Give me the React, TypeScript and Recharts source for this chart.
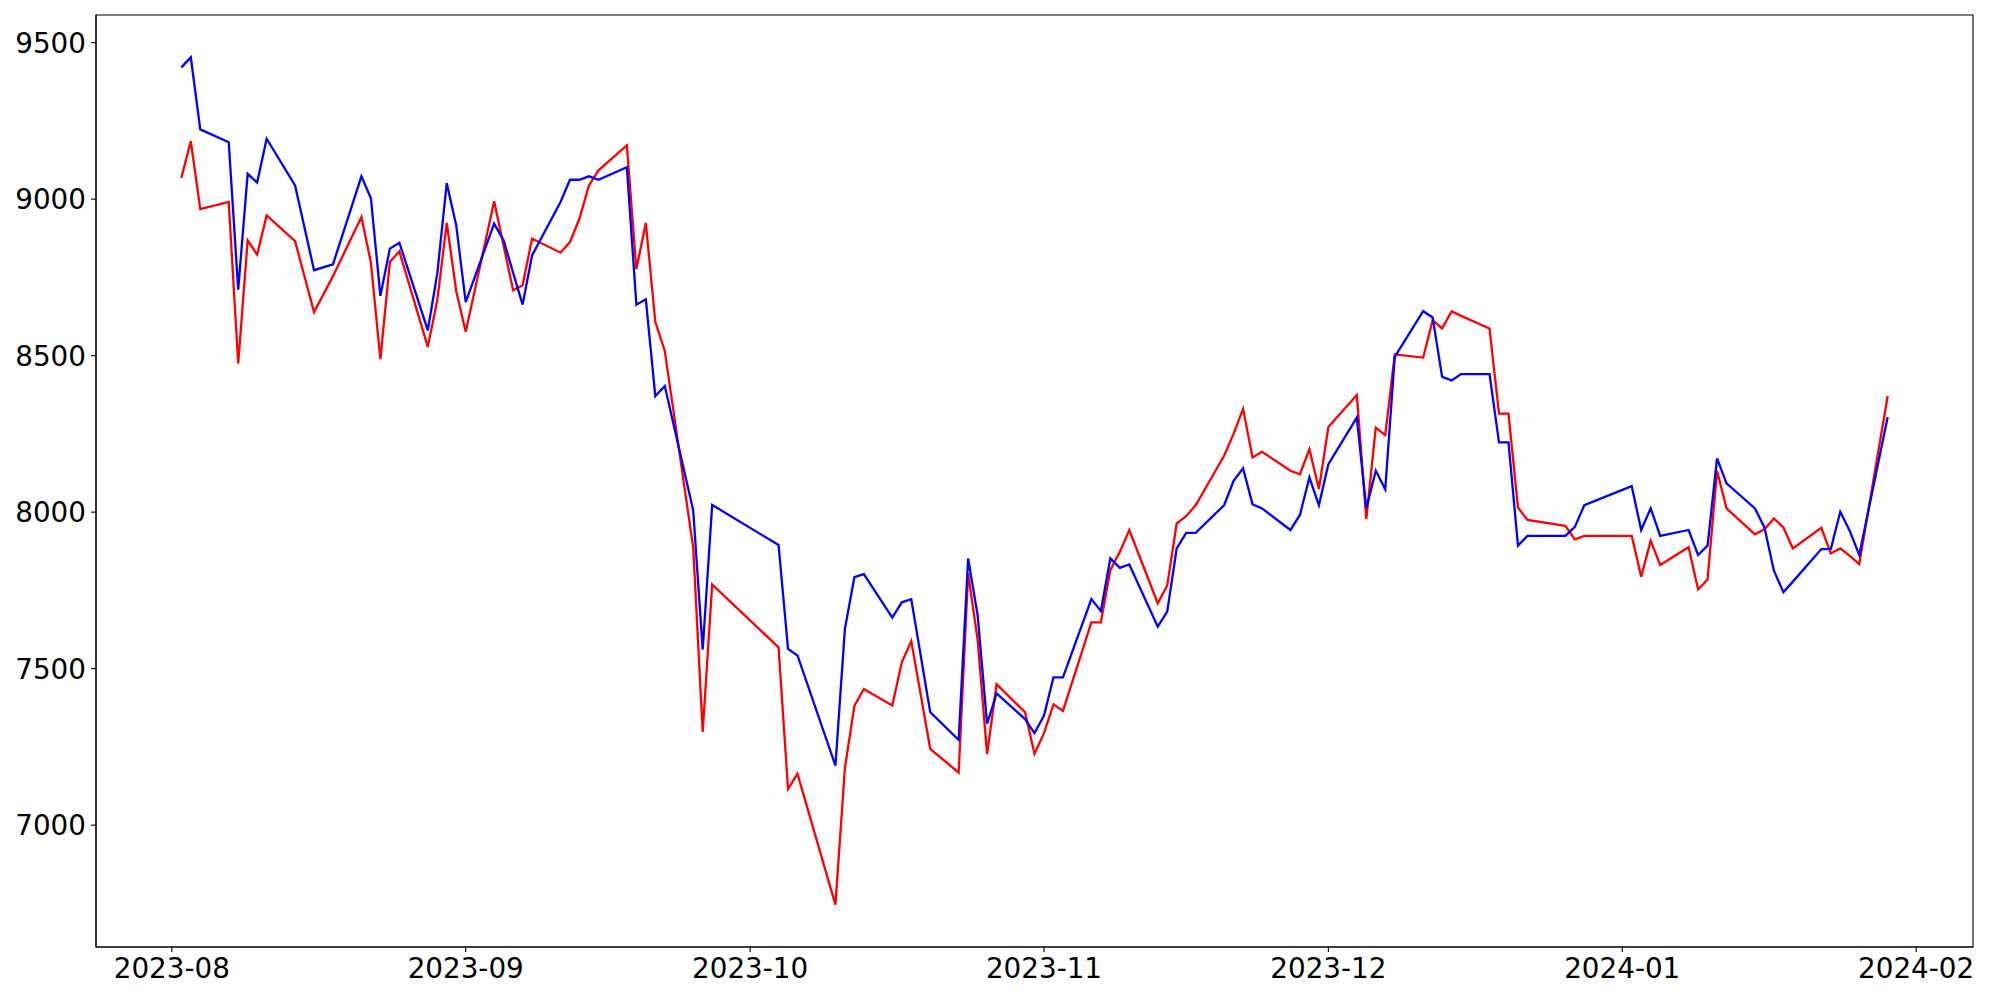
import React from 'react';
import { LineChart, Line, XAxis, YAxis, ReferenceArea } from 'recharts';

const dates: string[] = [
  '2023-08-02','2023-08-03','2023-08-04','2023-08-07','2023-08-08','2023-08-09','2023-08-10','2023-08-11','2023-08-14','2023-08-16','2023-08-18',
  '2023-08-21','2023-08-22','2023-08-23','2023-08-24','2023-08-25','2023-08-28','2023-08-29','2023-08-30','2023-08-31','2023-09-01',
  '2023-09-04','2023-09-05','2023-09-06','2023-09-07','2023-09-08','2023-09-11','2023-09-12','2023-09-13','2023-09-14','2023-09-15',
  '2023-09-18','2023-09-19','2023-09-20','2023-09-21','2023-09-22','2023-09-25','2023-09-26','2023-09-27','2023-10-04','2023-10-05',
  '2023-10-06','2023-10-10','2023-10-11','2023-10-12','2023-10-13','2023-10-16','2023-10-17','2023-10-18','2023-10-20','2023-10-23',
  '2023-10-24','2023-10-25','2023-10-26','2023-10-27','2023-10-30','2023-10-31','2023-11-01','2023-11-02','2023-11-03','2023-11-06',
  '2023-11-07','2023-11-08','2023-11-09','2023-11-10','2023-11-13','2023-11-14','2023-11-15','2023-11-16','2023-11-17','2023-11-20',
  '2023-11-21','2023-11-22','2023-11-23','2023-11-24','2023-11-27','2023-11-28','2023-11-29','2023-11-30','2023-12-01','2023-12-04',
  '2023-12-05','2023-12-06','2023-12-07','2023-12-08','2023-12-11','2023-12-12','2023-12-13','2023-12-14','2023-12-15','2023-12-18',
  '2023-12-19','2023-12-20','2023-12-21','2023-12-22','2023-12-26','2023-12-27','2023-12-28','2024-01-02','2024-01-03','2024-01-04',
  '2024-01-05','2024-01-08','2024-01-09','2024-01-10','2024-01-11','2024-01-12','2024-01-15','2024-01-16','2024-01-17','2024-01-18',
  '2024-01-19','2024-01-22','2024-01-23','2024-01-24','2024-01-25','2024-01-26','2024-01-29',
];

const redSeries: number[] = [
  9068, 9185, 8968, 8991, 8475, 8868, 8823, 8948, 8866, 8639, 8754,
  8943, 8797, 8489, 8799, 8833, 8528, 8677, 8924, 8706, 8576,
  8993, 8851, 8709, 8725, 8874, 8829, 8863, 8938, 9044, 9092,
  9172, 8776, 8924, 8608, 8515, 7886, 7298, 7769, 7568, 7116,
  7164, 6746, 7182, 7381, 7435, 7382, 7520, 7588, 7244, 7168,
  7805, 7592, 7227, 7450, 7361, 7228, 7294, 7386, 7365, 7648,
  7648, 7815, 7873, 7943, 7709, 7765, 7964, 7987, 8022, 8180,
  8250, 8330, 8175, 8193, 8132, 8121, 8201, 8074, 8272, 8374,
  7978, 8270, 8246, 8504, 8494, 8613, 8587, 8642, 8627, 8587,
  8315, 8315, 8015, 7975, 7956, 7913, 7924, 7924, 7794, 7909,
  7831, 7888, 7753, 7785, 8132, 8012, 7929, 7945, 7980, 7951,
  7884, 7950, 7868, 7884, 7860, 7834, 8371,
];

const blueSeries: number[] = [
  9421, 9453, 9223, 9182, 8711, 9081, 9053, 9193, 9044, 8773, 8792,
  9073, 9003, 8691, 8842, 8861, 8581, 8762, 9051, 8916, 8671,
  8922, 8868, 8765, 8663, 8820, 8991, 9062, 9062, 9073, 9062,
  9102, 8663, 8680, 8371, 8403, 8005, 7561, 8023, 7895, 7563,
  7542, 7190, 7627, 7792, 7802, 7663, 7712, 7722, 7361, 7272,
  7852, 7671, 7324, 7421, 7339, 7294, 7350, 7472, 7472, 7722,
  7684, 7852, 7822, 7833, 7634, 7682, 7884, 7934, 7934, 8022,
  8100, 8140, 8025, 8012, 7943, 7991, 8111, 8022, 8153, 8302,
  8012, 8132, 8073, 8496, 8642, 8622, 8432, 8421, 8441, 8441,
  8223, 8223, 7893, 7924, 7924, 7953, 8022, 8083, 7943, 8012,
  7924, 7943, 7863, 7893, 8172, 8092, 8012, 7951, 7813, 7744,
  7778, 7882, 7882, 8001, 7940, 7863, 8304,
];

const xTickLabels: string[] = ['2023-08', '2023-09', '2023-10', '2023-11', '2023-12', '2024-01', '2024-02'];
const yTicks: number[] = [7000, 7500, 8000, 8500, 9000, 9500];

const toUTC = (s: string) => {
  const [y, m, d] = s.split('-').map(Number);
  return Date.UTC(y, m - 1, d || 1);
};

const data = dates.map((d, i) => ({ t: toUTC(d), red: redSeries[i], blue: blueSeries[i] }));
const xTicks = xTickLabels.map(toUTC);

const tMin = data[0].t;
const tMax = data[data.length - 1].t;
const xPad = (tMax - tMin) * 0.05;
const xDomain: [number, number] = [tMin - xPad, tMax + xPad];

const allVals = [...redSeries, ...blueSeries];
const vMin = Math.min(...allVals);
const vMax = Math.max(...allVals);
const yPad = (vMax - vMin) * 0.05;
const yDomain: [number, number] = [vMin - yPad, vMax + yPad];

const fmtMonth = (t: number) => {
  const d = new Date(t);
  return `${d.getUTCFullYear()}-${String(d.getUTCMonth() + 1).padStart(2, '0')}`;
};

const tickStyle = { fill: '#000', fontSize: 27.8, fontFamily: 'DejaVu Sans' };

export default function App() {
  return (
    <div style={{ position: 'absolute', left: 0, top: 0, width: 2000, height: 1000, background: '#fff' }}>
      <LineChart width={2000} height={1000} data={data} margin={{ top: 15, right: 27, left: 0, bottom: 0 }}>
        <XAxis
          dataKey="t"
          type="number"
          domain={xDomain}
          allowDataOverflow
          ticks={xTicks}
          tickFormatter={fmtMonth}
          height={53}
          tick={tickStyle}
          tickSize={5}
          tickMargin={6}
          tickLine={{ stroke: '#000', strokeWidth: 1.1 }}
          axisLine={{ stroke: '#000', strokeWidth: 1.1 }}
          interval={0}
        />
        <YAxis
          type="number"
          domain={yDomain}
          allowDataOverflow
          ticks={yTicks}
          width={96}
          tick={tickStyle}
          tickSize={5}
          tickMargin={5}
          tickLine={{ stroke: '#000', strokeWidth: 1.1 }}
          axisLine={{ stroke: '#000', strokeWidth: 1.1 }}
          interval={0}
        />
        <ReferenceArea
          x1={xDomain[0]}
          x2={xDomain[1]}
          y1={yDomain[0]}
          y2={yDomain[1]}
          fill="none"
          fillOpacity={0}
          stroke="#000"
          strokeWidth={1.1}
          ifOverflow="visible"
        />
        <Line type="linear" dataKey="red" stroke="#ff0000" strokeWidth={2.3} dot={false} isAnimationActive={false} />
        <Line type="linear" dataKey="blue" stroke="#0000ff" strokeWidth={2.3} dot={false} isAnimationActive={false} />
      </LineChart>
    </div>
  );
}
